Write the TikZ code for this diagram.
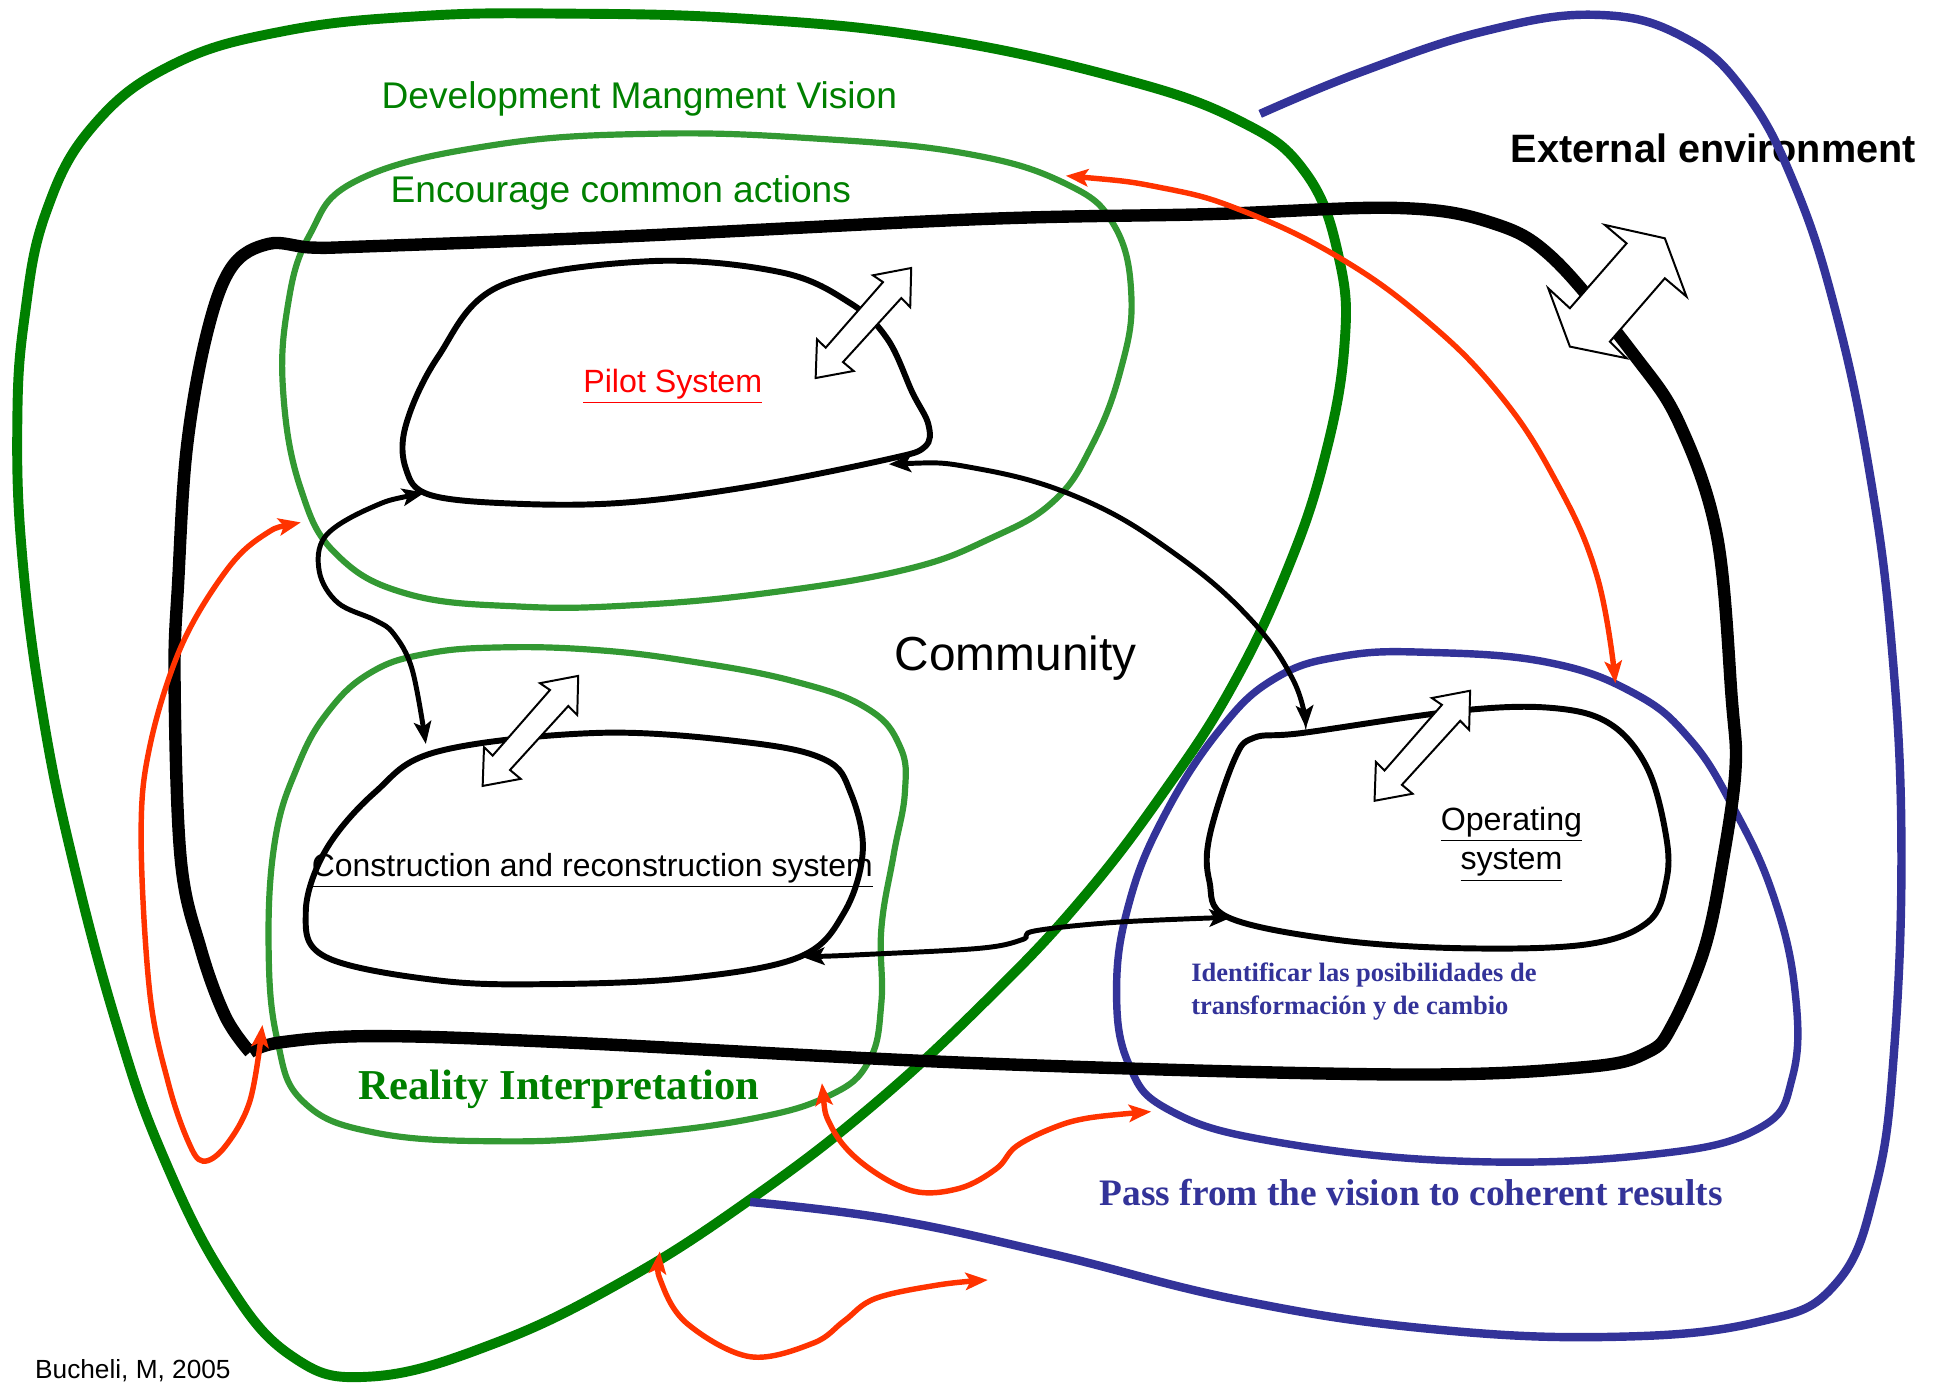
\documentclass[tikz,border=0pt]{standalone}
\usepackage{fontspec}
\setmainfont{Liberation Serif}
\setsansfont{Liberation Sans}
\usetikzlibrary{arrows.meta}
\definecolor{dgreen}{HTML}{008000}
\definecolor{lgreen}{HTML}{339933}
\definecolor{dblue}{HTML}{333399}
\definecolor{ored}{HTML}{FF3300}
\tikzset{
  loopdg/.style={draw=dgreen,line width=4pt},
  looplg/.style={draw=lgreen,line width=2.5pt},
  loopbl/.style={draw=dblue,line width=3pt},
  loopbk/.style={draw=black,line width=5pt,line join=round},
  blob/.style={draw=black,line width=2.4pt},
  blk/.style={draw=black,line width=2pt,{Stealth[length=9pt,width=7pt,inset=2pt]}-{Stealth[length=9pt,width=7pt,inset=2pt]}},
  redarr/.style={draw=ored,line width=2.2pt,{Stealth[length=9pt,width=7pt,inset=2pt]}-{Stealth[length=9pt,width=7pt,inset=2pt]}},
  hollow/.style={draw=black,fill=white,line width=0.8pt,line join=miter},
  sanslbl/.style={font=\sffamily,inner sep=0pt},
  seriflbl/.style={font=\rmfamily\bfseries,inner sep=0pt}
}
\newcommand\hollowdbl[1]{%
  \draw[hollow,shift={#1}] (7.7,-38.6) -- (38.6,-44.5) -- (37.8,-12.9) -- (30.6,-20.2)
    -- (-16.5,31.5) -- (-7.9,38.7) -- (-38.6,44.4) -- (-37.5,13.1) -- (-30.5,19.9)
    -- (15.8,-33.1) -- cycle;}
\begin{document}
\begin{tikzpicture}[x=0.5pt,y=-0.5pt]
\useasboundingbox (0,0) rectangle (1568,1117);
\fill[white] (0,0) rectangle (1568,1117);

% light green loops
\draw[looplg] plot[smooth cycle,tension=0.7] coordinates {(530,108) (660,112) (780,124) (860,148) (900,182) (914,240) (905,300) (882,360) (851,405) (800,435) (732,460) (620,479) (510,489) (420,490) (330,480) (272,448) (243,395) (229,320) (232,250) (250,190) (290,145) (400,117)};
\draw[looplg] plot[smooth cycle,tension=0.7] coordinates {(404,523) (480,525) (556,534) (640,550) (700,572) (727,603) (731,640) (722,690) (712,750) (712,810) (702,857) (670,885) (606,904) (505,917) (404,922) (303,915) (245,890) (224,840) (217,766) (222,680) (240,620) (265,575) (300,543) (345,528)};

% blue inner loop
\draw[loopbl] plot[smooth cycle,tension=0.7] coordinates {(1154,527) (1250,535) (1320,560) (1365,597) (1400,652) (1432,722) (1450,800) (1448,870) (1420,912) (1331,933) (1180,938) (1028,922) (945,897) (912,860) (902,800) (912,730) (940,660) (985,590) (1030,548) (1085,530)};

% dark green big loop
\draw[loopdg] plot[smooth cycle,tension=0.7] coordinates {(455,11) (600,15) (750,30) (900,62) (1000,97) (1055,140) (1082,210) (1086,280) (1070,370) (1040,460) (995,555) (940,640) (875,725) (800,805) (705,893) (606,969) (505,1034) (400,1085) (300,1112) (235,1095) (180,1030) (130,930) (95,830) (60,700) (35,580) (18,450) (14,340) (20,255) (37,172) (75,102) (140,52) (230,25) (340,13)};

% thick black loop
\draw[loopbk] plot[smooth,tension=0.6] coordinates {(202,850) (227,842) (303,837) (455,842) (792,859) (1129,868) (1281,862) (1331,850) (1351,828) (1377,766) (1392,694) (1402,621) (1399,565) (1387,433) (1357,343) (1321,288) (1255,209) (1205,180) (1129,168) (977,173) (792,177) (505,191) (298,199) (252,200) (217,197) (187,216) (167,270) (151,361) (144,469) (141,549) (146,694) (162,766) (182,821) (202,850)};

% blobs
\draw[blob] plot[smooth cycle,tension=0.6] coordinates {(525,211) (631,220) (687,245) (717,274) (737,317) (750,343) (747,361) (717,371) (606,393) (505,406) (419,407) (348,400) (328,379) (328,343) (354,288) (404,231)};
\draw[blob] plot[smooth cycle,tension=0.6] coordinates {(485,592) (606,600) (667,614) (687,640) (697,687) (682,737) (646,773) (556,790) (444,795) (354,792) (263,773) (247,737) (263,687) (303,640) (354,607)};
\draw[blob] plot[smooth cycle,tension=0.6] coordinates {(1013,596) (1053,592) (1180,574) (1255,572) (1301,585) (1331,621) (1346,676) (1346,712) (1331,745) (1281,763) (1180,766) (1078,759) (992,741) (977,712) (977,676) (997,614)};

% black connecting arrows
\draw[blk] plot[smooth,tension=0.6] coordinates {(343,398) (300,410) (263,433) (258,462) (273,487) (303,501) (318,512) (333,541) (344,601)};
\draw[blk] plot[smooth,tension=0.7] coordinates {(718,375) (792,379) (876,404) (950,448) (1010,500) (1045,550) (1055,588)};
\draw[blk] plot[smooth,tension=0.6] coordinates {(648,773) (700,771) (792,766) (826,759) (836,752) (902,745) (995,741)};

% red arrows
\draw[redarr] plot[smooth,tension=0.7] coordinates {(861,142) (940,152) (1003,170) (1080,207) (1150,257) (1210,317) (1256,387) (1290,465) (1305,552)};
\draw[redarr] plot[smooth,tension=0.6] coordinates {(243,422) (212,433) (182,462) (146,523) (121,603) (114,676) (121,802) (136,875) (152,922) (164,938) (182,926) (202,889) (212,828)};
\draw[redarr] plot[smooth,tension=0.6] coordinates {(664,875) (672,911) (697,940) (737,962) (775,960) (805,944) (821,926) (851,911) (880,903) (930,898)};
\draw[redarr] plot[smooth,tension=0.6] coordinates {(533,1011) (535,1038) (556,1070) (606,1096) (657,1085) (682,1067) (707,1049) (758,1038) (798,1034)};

% hollow double arrows
\hollowdbl{(697.5,261)}
\hollowdbl{(428.5,590.5)}
\hollowdbl{(1149,602.5)}
\draw[hollow] (1296.4,181.7) -- (1344.9,192.5) -- (1362.4,239.6) -- (1344.9,224.8) -- (1300.5,276) -- (1314,289.4) -- (1268.2,280) -- (1250.7,232.9) -- (1268.2,249) -- (1314,196.6) -- cycle;

% texts
\node[sanslbl,text=dgreen,font=\sffamily\fontsize{15}{18}\selectfont] (tdev) at (516.5,80) {Development Mangment Vision};
\node[sanslbl,text=dgreen,font=\sffamily\fontsize{15}{18}\selectfont] (tenc) at (501.5,156) {Encourage common actions};
\node[sanslbl,text=red,font=\sffamily\fontsize{13}{16}\selectfont] (tpilot) at (543.5,312) {\underline{Pilot System}};
\node[sanslbl,font=\sffamily\fontsize{19.3}{23}\selectfont] (tcom) at (820.5,532) {Community};
\node[sanslbl,font=\sffamily\fontsize{12.9}{16}\selectfont] (tcons) at (478.5,703) {\underline{Construction and reconstruction system}};
\node[sanslbl,align=center,font=\sffamily\fontsize{13}{16}\selectfont] (top) at (1221,682) {\underline{Operating}\\\underline{system}};
\node[sanslbl,font=\sffamily\bfseries\fontsize{16}{19}\selectfont] (text) at (1384,120) {External environment};
\node[seriflbl,text=dblue,align=left,anchor=west,font=\rmfamily\bfseries\fontsize{10.7}{13}\selectfont] (tid) at (962,801) {Identificar las posibilidades de\\transformación y de cambio};
\node[seriflbl,text=dgreen,font=\rmfamily\bfseries\fontsize{17.2}{20}\selectfont] (treal) at (451.5,880) {Reality Interpretation};
\node[seriflbl,text=dblue,font=\rmfamily\bfseries\fontsize{15.1}{18}\selectfont] (tpass) at (1140,963) {Pass from the vision to coherent results};
\node[sanslbl,anchor=west,font=\sffamily\fontsize{10.6}{13}\selectfont] (tbuch) at (28,1107) {Bucheli, M, 2005};

% blue outer open curve (over the label)
\draw[loopbl,line width=3.4pt] plot[smooth,tension=0.7] coordinates {(1018,92) (1100,58) (1200,25) (1290,12) (1360,30) (1410,75) (1450,150) (1483,252) (1510,380) (1528,520) (1536,680) (1530,850) (1515,960) (1483,1037) (1420,1068) (1300,1080) (1150,1073) (1000,1050) (850,1013) (720,985) (606,971)};
\end{tikzpicture}
\end{document}
